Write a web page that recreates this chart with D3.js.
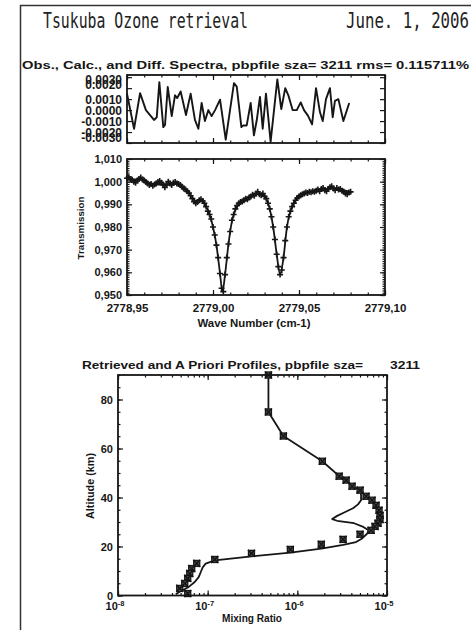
<!DOCTYPE html>
<html><head><meta charset="utf-8">
<script src="https://cdn.jsdelivr.net/npm/d3@7"></script>
<style>body{margin:0;background:#fff}svg{display:block}</style>
</head><body><svg id="c" width="471" height="630"></svg>
<script>
// ---------------- DATA ----------------
const titleLeft = "Tsukuba Ozone retrieval";
const titleRight = "June. 1, 2006";
const subTitle1 = "Obs., Calc., and Diff. Spectra, pbpfile sza= 3211 rms= 0.115711%";
const subTitle2 = "Retrieved and A Priori Profiles, pbpfile sza=";
const subTitle2b = "3211";

// residual (obs - calc)
const resWave = [2778.9500,2778.9541,2778.9576,2778.9610,2778.9634,2778.9657,2778.9673,2778.9688,2778.9711,2778.9721,
  2778.9737,2778.9760,2778.9779,2778.9792,2778.9812,2778.9843,2778.9870,2778.9895,2778.9915,2778.9934,
  2778.9953,2778.9973,2778.9992,2779.0012,2779.0041,2779.0074,2779.0099,2779.0122,2779.0138,2779.0165,
  2779.0176,2779.0196,2779.0219,2779.0238,2779.0254,2779.0273,2779.0289,2779.0308,2779.0335,2779.0374,
  2779.0397,2779.0420,2779.0438,2779.0463,2779.0487,2779.0510,2779.0529,2779.0552,2779.0576,2779.0599,
  2779.0622,2779.0638,2779.0657,2779.0680,2779.0696,2779.0709,2779.0729,2779.0758,2779.0792];
const resVal = [0.0015,-0.0017,0.00155,0.0000,-0.00045,-0.0009,-0.00065,0.00255,-0.00155,-0.00135,
  0.0021,-0.00055,0.00135,0.0011,0.0017,-0.00045,0.0015,-0.0009,-0.0017,0.00065,
  -0.0010,0.0000,-0.00055,0.0000,0.00095,-0.0027,0.0000,0.00245,0.00215,-0.00155,
  -0.0014,-0.0014,0.00065,-0.0023,-0.00095,0.0012,-0.0017,0.0015,-0.0029,0.0028,
  0.0001,0.0020,0.00135,0.0000,0.0000,0.0007,0.0000,-0.0005,-0.0013,0.0020,
  -0.0002,-0.0010,0.0010,0.0020,-0.00065,0.00085,0.0010,-0.0010,0.00065];

// observed spectrum, one value per sampling step
const specStart = 2778.950, specStep = 0.001;
const specObs = [1.0015,1.0020,1.0012,1.0008,1.0000,0.9995,1.0005,1.0012,1.0018,1.0010,
  1.0005,0.9998,0.9992,0.9985,0.9990,0.9982,0.9988,0.9992,0.9998,1.0003,
  0.9995,0.9988,0.9975,0.9990,1.0000,0.9992,0.9985,0.9995,0.9998,0.9992,
  0.9990,0.9985,0.9978,0.9970,0.9965,0.9958,0.9950,0.9938,0.9925,0.9912,
  0.9905,0.9910,0.9918,0.9922,0.9915,0.9905,0.9890,0.9870,0.9855,0.9835,
  0.9800,0.9765,0.9720,0.9665,0.9595,0.9530,0.9515,0.9590,0.9665,0.9725,
  0.9780,0.9830,0.9855,0.9880,0.9895,0.9905,0.9910,0.9912,0.9918,0.9925,
  0.9922,0.9930,0.9935,0.9942,0.9938,0.9948,0.9955,0.9945,0.9940,0.9948,
  0.9935,0.9925,0.9905,0.9880,0.9845,0.9800,0.9745,0.9680,0.9625,0.9590,
  0.9610,0.9665,0.9740,0.9800,0.9845,0.9870,0.9890,0.9905,0.9918,0.9928,
  0.9935,0.9940,0.9945,0.9948,0.9952,0.9950,0.9955,0.9953,0.9958,0.9955,
  0.9960,0.9965,0.9958,0.9968,0.9972,0.9962,0.9958,0.9968,0.9975,0.9980,
  0.9970,0.9962,0.9972,0.9965,0.9968,0.9960,0.9955,0.9948,0.9945,0.9952,
  0.9955];

// calculated spectrum
const calcWave = [2778.950,2778.958,2778.965,2778.972,2778.978,2778.982,2778.986,2778.990,2778.993,2778.996,
  2778.998,2779.000,2779.002,2779.004,2779.0055,2779.007,2779.009,2779.011,2779.013,2779.016,
  2779.020,2779.025,2779.029,2779.031,2779.033,2779.035,2779.037,2779.039,2779.041,2779.043,
  2779.045,2779.048,2779.052,2779.060,2779.068,2779.074,2779.080];
const calcT = [1.0010,1.0010,0.9990,0.9985,0.9990,0.9978,0.9952,0.9915,0.9918,0.9890,
  0.9855,0.9800,0.9720,0.9600,0.9515,0.9590,0.9725,0.9825,0.9875,0.9908,
  0.9925,0.9945,0.9945,0.9925,0.9880,0.9800,0.9682,0.9590,0.9665,0.9800,
  0.9870,0.9918,0.9945,0.9958,0.9970,0.9965,0.9955];

// tick values / labels
const resTicks = [0.0030,0.0020,0.0010,0.0000,-0.0010,-0.0020,-0.0030];
const specYTicks = [0.950,0.960,0.970,0.980,0.990,1.000,1.010];
const waveTicks = [2778.95,2779.00,2779.05,2779.10];
const altTicks = [0,20,40,60,80];
const mrTicks = [1e-8,1e-7,1e-6,1e-5];
const mrExp = ["-8","-7","-6","-5"];

// profiles: symbols
const apAlt = [90,74.9,65.1,54.8,48.7,47.1,44.6,43.0,40.5,38.9,36.8,34.8,32.7,31.0,29.5,28.2,26.6,25.0,22.9,20.9,
  18.8,17.2,14.7,13.1,11.0,9.0,7.0,4.9,2.9,0.8];
const apVmr = [4.76e-7,4.76e-7,6.99e-7,1.90e-6,2.93e-6,3.50e-6,4.08e-6,5.01e-6,5.84e-6,6.81e-6,
  7.55e-6,8.15e-6,8.36e-6,8.36e-6,7.94e-6,7.36e-6,6.64e-6,5.01e-6,3.24e-6,1.85e-6,
  8.36e-7,3.08e-7,1.20e-7,7.55e-8,6.64e-8,6.31e-8,5.99e-8,5.55e-8,4.88e-8,5.99e-8];
// profiles: line
const rtAlt = [90,74.9,65.1,54.8,48.7,47.1,44.6,43.0,40.9,38.9,37.2,35.6,33.9,32.5,31.2,30.5,29.5,28.0,26.5,25.2,
  23.3,21.8,20.7,19.1,17.5,16.0,14.3,13.0,11.5,9.5,7.5,5.5,3.5,1.5,0.5];
const rtVmr = [4.76e-7,4.76e-7,6.99e-7,1.90e-6,2.93e-6,3.50e-6,4.08e-6,5.01e-6,5.14e-6,5.14e-6,
  4.75e-6,4.18e-6,3.33e-6,2.78e-6,2.45e-6,2.78e-6,4.29e-6,5.44e-6,6.30e-6,5.99e-6,
  5.28e-6,4.51e-6,3.24e-6,1.85e-6,8.36e-7,3.08e-7,1.20e-7,9.5e-8,8.8e-8,8.36e-8,
  7.94e-8,7.17e-8,6.15e-8,4.88e-8,4.41e-8];

// ---------------- DRAWING ----------------
const svg = d3.select('#c');
const ink = '#161616';
const tickFont = "'Liberation Sans', Arial, sans-serif";
const dotLoc = d3.formatLocale({decimal:".", thousands:",", grouping:[3], currency:["",""], minus:"-"});
const comLoc = d3.formatLocale({decimal:",", thousands:".", grouping:[3], currency:["",""], minus:"-"});

svg.append('rect').attr('x',20.5).attr('y',5.5).attr('width',480).attr('height',660)
  .attr('fill','none').attr('stroke','#333').attr('stroke-width',1.5);

svg.append('text').attr('x',43).attr('y',28).text(titleLeft)
  .attr('font-family',"'DejaVu Sans Mono', monospace").attr('font-size',21).attr('fill','#222')
  .attr('textLength',205).attr('lengthAdjust','spacingAndGlyphs');
svg.append('text').attr('x',346).attr('y',28).text(titleRight)
  .attr('font-family',"'DejaVu Sans Mono', monospace").attr('font-size',21).attr('fill','#222')
  .attr('textLength',123).attr('lengthAdjust','spacingAndGlyphs');

function label(x,y,t,size,len,anchor,rot){
  const el = svg.append('text').attr('x',x).attr('y',y).text(t)
    .attr('font-family',tickFont).attr('font-weight','bold').attr('font-size',size).attr('fill',ink)
    .attr('text-anchor',anchor||'start');
  if(len) el.attr('textLength',len).attr('lengthAdjust','spacingAndGlyphs');
  if(rot) el.attr('transform',`rotate(-90,${x},${y})`);
  return el;
}
function ax(gen, tx, ty, scale, vals, size, fmt, fs){
  const a = gen(scale).tickValues(vals).tickSizeInner(size).tickSizeOuter(0).tickPadding(5)
    .tickFormat(fmt || (()=> ""));
  const g = svg.append('g').attr('transform',`translate(${tx},${ty})`).call(a);
  g.select('.domain').remove();
  g.selectAll('line').attr('stroke',ink).attr('stroke-width',1.2);
  g.selectAll('text').attr('font-family',tickFont).attr('font-weight','bold')
    .attr('font-size',fs||11).attr('fill',ink);
  return g;
}
function box(x0,y0,x1,y1){
  svg.append('rect').attr('x',x0).attr('y',y0).attr('width',x1-x0).attr('height',y1-y0)
    .attr('fill','none').attr('stroke',ink).attr('stroke-width',1.8);
}

// ---- top panel: residual ----
const T = {x0:127,x1:385,y0:75,y1:143};
const xT = d3.scaleLinear([2778.95,2779.10],[T.x0,T.x1]);
const yT = d3.scaleLinear([-0.0030,0.0032],[T.y1,T.y0]);
label(22,68.5,subTitle1,11.2,447);
ax(d3.axisBottom,0,T.y1,xT,waveTicks,-5);
ax(d3.axisBottom,0,T.y1,xT,xT.ticks(15),-2.5);
ax(d3.axisTop,0,T.y0,xT,waveTicks,-5);
ax(d3.axisTop,0,T.y0,xT,xT.ticks(15),-2.5);
const gl = ax(d3.axisLeft,T.x0,0,yT,resTicks,-5,dotLoc.format(".4f"),12);
gl.selectAll('text').attr('dy',d=> d>=0.0029? '0.5em' : d<=-0.0029 ? '-0.1em' : d>0.0015 ? '0em' : '0.38em');
ax(d3.axisRight,T.x1,0,yT,resTicks,-5);
svg.append('path').datum(resWave.map((w,i)=>[w,resVal[i]]))
  .attr('d',d3.line().x(d=>xT(d[0])).y(d=>yT(d[1])))
  .attr('fill','none').attr('stroke',ink).attr('stroke-width',1.9).attr('stroke-linejoin','round');
box(T.x0,T.y0,T.x1,T.y1);

// ---- middle panel: spectrum ----
const M = {x0:127,x1:385,y0:159,y1:295};
const xM = d3.scaleLinear([2778.95,2779.10],[M.x0,M.x1]);
const yM = d3.scaleLinear([0.95,1.01],[M.y1,M.y0]);
const gb = ax(d3.axisBottom,0,M.y1,xM,waveTicks,-5,comLoc.format(".2f"),11.5);
gb.selectAll('text').attr('dy','1.05em');
ax(d3.axisBottom,0,M.y1,xM,xM.ticks(15),-2.5);
ax(d3.axisTop,0,M.y0,xM,waveTicks,-5);
ax(d3.axisTop,0,M.y0,xM,xM.ticks(15),-2.5);
ax(d3.axisLeft,M.x0,0,yM,specYTicks,-5,comLoc.format(".3f"),11);
ax(d3.axisLeft,M.x0,0,yM,yM.ticks(60),-2.5);
ax(d3.axisRight,M.x1,0,yM,specYTicks,-5);
ax(d3.axisRight,M.x1,0,yM,yM.ticks(60),-2.5);
svg.append('path').datum(calcWave.map((w,i)=>[w,calcT[i]]))
  .attr('d',d3.line().x(d=>xM(d[0])).y(d=>yM(d[1])).curve(d3.curveMonotoneX))
  .attr('fill','none').attr('stroke',ink).attr('stroke-width',1.8);
const obs = svg.append('g').attr('stroke',ink).attr('stroke-width',1.6);
specObs.forEach((v,i)=>{
  const px = xM(specStart + i*specStep), py = yM(v);
  obs.append('path').attr('d',`M${px-3},${py}H${px+3}M${px},${py-3}V${py+3}`);
});
box(M.x0,M.y0,M.x1,M.y1);
label(84,228,"Transmission",9.5,63,'middle',true);
label(254,327,"Wave Number (cm-1)",10,113,'middle');

// ---- bottom panel: profiles ----
const B = {x0:118,x1:387,y0:375,y1:595.5};
const xB = d3.scaleLog([1e-8,1e-5],[B.x0,B.x1]);
const yB = d3.scaleLinear([0,90],[B.y1,B.y0]);
label(82,369,subTitle2,11.5,281);
label(390,369,subTitle2b,11.5,30);
ax(d3.axisBottom,0,B.y1,xB,mrTicks,-5);
ax(d3.axisBottom,0,B.y1,xB,xB.ticks(),-2.5);
ax(d3.axisTop,0,B.y0,xB,mrTicks,-5);
ax(d3.axisTop,0,B.y0,xB,xB.ticks(),-2.5);
ax(d3.axisLeft,B.x0,0,yB,altTicks,-5,d3.format("d"),11);
ax(d3.axisLeft,B.x0,0,yB,yB.ticks(18),-2.5);
ax(d3.axisRight,B.x1,0,yB,altTicks,-5);
ax(d3.axisRight,B.x1,0,yB,yB.ticks(18),-2.5);
mrTicks.forEach((v,i)=>{
  const t = svg.append('text').attr('x',xB(v)-3).attr('y',610).attr('text-anchor','middle')
    .attr('font-family',tickFont).attr('font-weight','bold').attr('font-size',11).attr('fill',ink);
  t.append('tspan').text("10");
  t.append('tspan').text(mrExp[i]).attr('dy',-4.5).attr('font-size',7.5);
});
svg.append('path').datum(rtAlt.map((a,i)=>[rtVmr[i],a]))
  .attr('d',d3.line().x(d=>xB(d[0])).y(d=>yB(d[1])))
  .attr('fill','none').attr('stroke',ink).attr('stroke-width',1.8).attr('stroke-linejoin','round');
const sym = svg.append('g').attr('stroke',ink);
apAlt.forEach((a,i)=>{
  const px = xB(apVmr[i]), py = yB(a);
  sym.append('rect').attr('x',px-3).attr('y',py-3).attr('width',6).attr('height',6)
    .attr('fill','#555').attr('stroke-width',1.3);
  sym.append('path').attr('d',`M${px-3.5},${py-3.5}L${px+3.5},${py+3.5}M${px-3.5},${py+3.5}L${px+3.5},${py-3.5}`)
    .attr('stroke-width',1.5);
});
box(B.x0,B.y0,B.x1,B.y1);
label(94,486,"Altitude (km)",10,66,'middle',true);
label(252,622,"Mixing Ratio",10,60,'middle');
</script></body></html>
